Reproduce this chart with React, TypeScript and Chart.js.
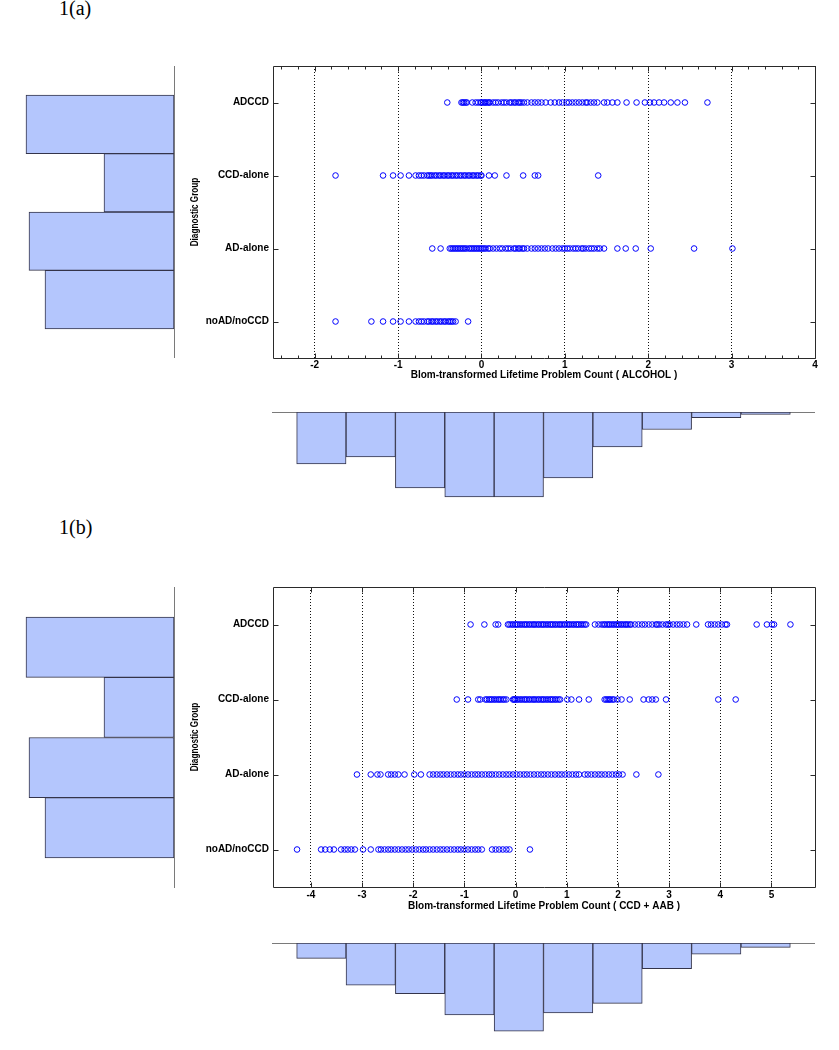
import React, { useEffect, useRef } from 'react';
import { Chart, registerables } from 'chart.js';

Chart.register(...registerables);

const FONT = "'Liberation Sans', Arial, Helvetica, sans-serif";

// ---------- data ----------
const groupLabels = ['noAD/noCCD', 'AD-alone', 'CCD-alone', 'ADCCD'];
const groupCounts = [129, 145, 70, 148];
const yAxisTitle = 'Diagnostic Group';

const alcoholTicks = [-2, -1, 0, 1, 2, 3, 4];
const cabTicks = [-4, -3, -2, -1, 0, 1, 2, 3, 4, 5];
const histBinEdges = [0, 1, 2, 3, 4, 5, 6, 7, 8, 9, 10];

// 1(a) ALCOHOL
const alcNoADnoCCD = [-1.75, -1.32, -1.18, -1.06, -0.97, -0.87, -0.79, -0.75, -0.72, -0.69, -0.65, -0.63, -0.6, -0.58,
  -0.55, -0.53, -0.5, -0.48, -0.45, -0.43, -0.4, -0.38, -0.36, -0.34, -0.31, -0.16];
const alcADalone = [-0.59, -0.49, -0.38, -0.36, -0.34, -0.32, -0.3, -0.28, -0.26, -0.24, -0.22, -0.2, -0.18, -0.15,
  -0.13, -0.11, -0.09, -0.07, -0.05, -0.03, -0.01, 0.01, 0.03, 0.05, 0.08, 0.1, 0.14, 0.18, 0.22, 0.25, 0.29, 0.32,
  0.35, 0.39, 0.41, 0.44, 0.46, 0.49, 0.51, 0.55, 0.6, 0.64, 0.68, 0.72, 0.76, 0.8, 0.85, 0.89, 0.93, 0.97, 1.0, 1.03,
  1.06, 1.1, 1.13, 1.16, 1.2, 1.22, 1.25, 1.29, 1.32, 1.35, 1.39, 1.42, 1.47, 1.63, 1.73, 1.85, 2.03, 2.55, 3.01];
const alcCCDalone = [-1.75, -1.18, -1.06, -0.97, -0.87, -0.79, -0.75, -0.72, -0.69, -0.65, -0.63, -0.61, -0.59, -0.56,
  -0.54, -0.51, -0.49, -0.46, -0.44, -0.41, -0.39, -0.36, -0.34, -0.31, -0.29, -0.26, -0.24, -0.21, -0.19, -0.16,
  -0.14, -0.11, -0.09, -0.06, -0.04, -0.01, 0.0, 0.09, 0.16, 0.3, 0.5, 0.64, 0.68, 1.4];
const alcADCCD = [-0.41, -0.24, -0.225, -0.21, -0.19, -0.175, -0.11, -0.07, -0.04, -0.01, 0.0, 0.02, 0.04, 0.05, 0.07,
  0.09, 0.1, 0.14, 0.17, 0.2, 0.24, 0.27, 0.3, 0.34, 0.36, 0.39, 0.41, 0.44, 0.46, 0.48, 0.51, 0.55, 0.6, 0.64, 0.68,
  0.72, 0.77, 0.83, 0.88, 0.93, 0.97, 1.02, 1.05, 1.09, 1.13, 1.17, 1.21, 1.25, 1.27, 1.31, 1.35, 1.39, 1.47, 1.51,
  1.57, 1.63, 1.74, 1.86, 1.96, 2.02, 2.07, 2.13, 2.19, 2.27, 2.35, 2.44, 2.71];

// 1(b) CCD + AAB
const cabNoADnoCCD = [-4.27, -3.8, -3.72, -3.63, -3.55, -3.41, -3.34, -3.28, -3.21, -3.14, -2.98, -2.83, -2.68, -2.63,
  -2.56, -2.49, -2.43, -2.36, -2.29, -2.22, -2.15, -2.09, -2.02, -1.95, -1.88, -1.81, -1.75, -1.68, -1.61, -1.54,
  -1.47, -1.41, -1.34, -1.27, -1.2, -1.13, -1.07, -1.0, -0.93, -0.86, -0.79, -0.73, -0.66, -0.46, -0.39, -0.32, -0.25,
  -0.18, -0.12, 0.28];
const cabADalone = [-3.1, -2.83, -2.7, -2.64, -2.49, -2.43, -2.36, -2.29, -2.17, -1.98, -1.85, -1.68, -1.61, -1.54,
  -1.47, -1.41, -1.34, -1.27, -1.2, -1.13, -1.07, -1.0, -0.93, -0.86, -0.79, -0.73, -0.66, -0.59, -0.52, -0.46, -0.39,
  -0.32, -0.25, -0.18, -0.12, -0.05, 0.02, 0.09, 0.16, 0.22, 0.29, 0.36, 0.43, 0.5, 0.56, 0.63, 0.7, 0.77, 0.84, 0.9,
  0.97, 1.04, 1.11, 1.18, 1.24, 1.35, 1.41, 1.48, 1.55, 1.62, 1.68, 1.75, 1.82, 1.89, 1.96, 2.02, 2.09, 2.36, 2.79];
const cabCCDalone = [-1.15, -0.93, -0.73, -0.69, -0.59, -0.56, -0.52, -0.49, -0.46, -0.42, -0.39, -0.35, -0.32, -0.29,
  -0.25, -0.22, -0.18, -0.05, -0.03, -0.01, 0.02, 0.05, 0.09, 0.12, 0.16, 0.19, 0.22, 0.26, 0.29, 0.33, 0.36, 0.39,
  0.43, 0.46, 0.5, 0.53, 0.56, 0.6, 0.63, 0.67, 0.7, 0.73, 0.77, 0.8, 0.84, 0.87, 1.01, 1.09, 1.24, 1.43, 1.74, 1.77,
  1.8, 1.83, 1.85, 1.89, 1.92, 1.99, 2.07, 2.23, 2.5, 2.6, 2.67, 2.74, 2.94, 3.96, 4.3];
const cabADCCD = [-0.88, -0.61, -0.39, -0.34, -0.15, -0.12, -0.08, -0.05, -0.01, 0.02, 0.05, 0.09, 0.12, 0.16, 0.19,
  0.22, 0.26, 0.29, 0.33, 0.36, 0.39, 0.43, 0.46, 0.5, 0.53, 0.56, 0.6, 0.63, 0.67, 0.7, 0.73, 0.77, 0.8, 0.84, 0.87,
  0.9, 0.94, 0.97, 1.01, 1.04, 1.07, 1.11, 1.14, 1.18, 1.21, 1.24, 1.28, 1.31, 1.35, 1.38, 1.55, 1.62, 1.68, 1.72,
  1.75, 1.79, 1.82, 1.85, 1.89, 1.92, 1.96, 1.99, 2.02, 2.06, 2.09, 2.13, 2.16, 2.19, 2.23, 2.26, 2.33, 2.4, 2.47,
  2.53, 2.6, 2.67, 2.74, 2.77, 2.81, 2.87, 2.94, 2.98, 3.01, 3.08, 3.15, 3.21, 3.28, 3.35, 3.53, 3.76, 3.82, 3.89,
  3.96, 4.03, 4.1, 4.13, 4.71, 4.91, 5.01, 5.05, 5.37];

// marginal histograms (bin frequencies)
const alcHist = [52, 45, 76, 85, 85, 66, 35, 17.5, 5.7, 2.5];
const cabHist = [15.4, 42.2, 50.7, 71.8, 88.2, 70, 60.4, 25.7, 11.1, 4.3];

// ---------- styles ----------
const BAR_FILL = '#b4c6fd';
const BAR_EDGE = '#34344a';
const AXIS_GRAY = '#7a7a7a';
const MARK = '#0000ff';

function framePlugin(majors: number[], minorStep: number | null, xMin: number, xMax: number) {
  return {
    id: 'matlabFrame',
    afterDraw(chart: any) {
      const { ctx, chartArea } = chart;
      const xs = chart.scales.x;
      const ys = chart.scales.y;
      const L = Math.round(chartArea.left) + 0.5;
      const R = Math.round(chartArea.right) + 0.5;
      const T = Math.round(chartArea.top) + 0.5;
      const B = Math.round(chartArea.bottom) + 0.5;
      ctx.save();
      ctx.strokeStyle = '#2a2a2a';
      ctx.lineWidth = 1;
      ctx.beginPath();
      ctx.rect(L, T, R - L, B - T);
      for (const v of [1, 2, 3, 4]) {
        const py = Math.round(ys.getPixelForValue(v)) + 0.5;
        ctx.moveTo(L, py); ctx.lineTo(L + 5, py);
        ctx.moveTo(R, py); ctx.lineTo(R - 5, py);
      }
      for (const v of majors) {
        const px = Math.round(xs.getPixelForValue(v)) + 0.5;
        ctx.moveTo(px, T); ctx.lineTo(px, T + 5);
        ctx.moveTo(px, B); ctx.lineTo(px, B - 5);
      }
      if (minorStep) {
        const n0 = Math.ceil(xMin / minorStep);
        const n1 = Math.floor(xMax / minorStep);
        for (let n = n0; n <= n1; n++) {
          const v = n * minorStep;
          if (Math.abs(v - Math.round(v)) < 1e-6) continue;
          const px = Math.round(xs.getPixelForValue(v)) + 0.5;
          ctx.moveTo(px, T); ctx.lineTo(px, T + 3);
          ctx.moveTo(px, B); ctx.lineTo(px, B - 3);
        }
      }
      ctx.stroke();

      // condensed rotated y-axis title
      const cy = (chartArea.top + chartArea.bottom) / 2;
      ctx.translate(chart.scales.y.left + 15, cy);
      ctx.rotate(-Math.PI / 2);
      ctx.scale(0.78, 1);
      ctx.font = `bold 10.5px ${FONT}`;
      ctx.fillStyle = '#000';
      ctx.textAlign = 'center';
      ctx.textBaseline = 'middle';
      ctx.fillText(yAxisTitle, 0, 0);
      ctx.restore();
    },
  };
}

function scatterConfig(sets: number[][], xMin: number, xMax: number, majors: number[], minorStep: number | null,
  xTitle: string, labelPad: number, axisH: number): any {
  return {
    type: 'scatter',
    data: {
      datasets: sets.map((xs, i) => ({
        label: groupLabels[i],
        data: xs.map((x) => ({ x, y: i + 1 })),
        pointStyle: 'circle',
        pointRadius: 2.8,
        pointHoverRadius: 2.8,
        borderColor: MARK,
        backgroundColor: 'rgba(0,0,0,0)',
        borderWidth: 1,
      })),
    },
    options: {
      responsive: false,
      animation: false,
      events: [],
      layout: { padding: { top: 10, right: 10, left: 0, bottom: 0 } },
      plugins: { legend: { display: false }, tooltip: { enabled: false } },
      scales: {
        x: {
          type: 'linear',
          position: 'bottom',
          min: xMin,
          max: xMax,
          afterBuildTicks: (s: any) => { s.ticks = majors.map((v) => ({ value: v })); },
          afterFit: (s: any) => { s.height = axisH; },
          grid: { display: true, drawTicks: false, color: '#111', lineWidth: 1 },
          border: { display: false, dash: [1, 2] },
          ticks: {
            padding: labelPad,
            autoSkip: false,
            maxRotation: 0,
            color: '#000',
            font: { family: FONT, size: 10, weight: 'bold' },
            callback: (v: any) => String(v),
          },
          title: {
            display: true,
            text: xTitle,
            color: '#000',
            font: { family: FONT, size: 10, weight: 'bold' },
            padding: { top: 0, bottom: 3 },
          },
        },
        y: {
          type: 'linear',
          min: 0.5,
          max: 4.5,
          afterBuildTicks: (s: any) => { s.ticks = [1, 2, 3, 4].map((v) => ({ value: v })); },
          afterFit: (s: any) => { s.width = 93; },
          grid: { display: false, drawTicks: false },
          border: { display: false },
          ticks: {
            padding: 4,
            color: '#000',
            font: { family: FONT, size: 10, weight: 'bold' },
            callback: (v: any) => groupLabels[Math.round(v) - 1],
          },
          title: { display: false },
        },
      },
    },
    plugins: [framePlugin(majors, minorStep, xMin, xMax)],
  };
}

function leftHistConfig(): any {
  return {
    type: 'bar',
    data: {
      datasets: [{
        data: groupCounts.map((c, i) => ({ x: c, y: i + 1 })),
        backgroundColor: BAR_FILL,
        borderColor: BAR_EDGE,
        borderWidth: 1,
        borderSkipped: false,
        barPercentage: 1,
        categoryPercentage: 1,
      }],
    },
    options: {
      indexAxis: 'y',
      responsive: false,
      animation: false,
      events: [],
      layout: { padding: 0 },
      plugins: { legend: { display: false }, tooltip: { enabled: false } },
      scales: {
        x: { type: 'linear', min: 0, max: 174, reverse: true, display: false },
        y: {
          type: 'linear',
          position: 'right',
          offset: false,
          min: 0,
          max: 5,
          afterBuildTicks: (s: any) => { s.ticks = [0, 1, 2, 3, 4, 5].map((v) => ({ value: v })); },
          afterFit: (s: any) => { s.width = 1; },
          grid: { display: false, drawTicks: false, offset: false },
          ticks: { display: false },
          border: { display: true, color: AXIS_GRAY, width: 1 },
        },
      },
    },
  };
}

function bottomHistConfig(values: number[]): any {
  return {
    type: 'bar',
    data: {
      datasets: [{
        data: values.map((v, i) => ({ x: (histBinEdges[i] + histBinEdges[i + 1]) / 2, y: v })),
        backgroundColor: BAR_FILL,
        borderColor: BAR_EDGE,
        borderWidth: 1,
        borderSkipped: false,
        barPercentage: 1,
        categoryPercentage: 1,
      }],
    },
    options: {
      responsive: false,
      animation: false,
      events: [],
      layout: { padding: 0 },
      plugins: { legend: { display: false }, tooltip: { enabled: false } },
      scales: {
        x: {
          type: 'linear',
          position: 'top',
          offset: false,
          min: -0.5,
          max: 10.5,
          afterBuildTicks: (s: any) => { s.ticks = histBinEdges.map((v) => ({ value: v })); },
          afterFit: (s: any) => { s.height = 1; },
          grid: { display: false, drawTicks: false, offset: false },
          ticks: { display: false },
          border: { display: true, color: AXIS_GRAY, width: 1 },
        },
        y: { type: 'linear', min: 0, max: 100, reverse: true, display: false },
      },
    },
  };
}

function ChartBox({ left, top, width, height, make }: any) {
  const ref = useRef<HTMLCanvasElement | null>(null);
  useEffect(() => {
    const chart = new Chart(ref.current as HTMLCanvasElement, make());
    return () => chart.destroy();
  }, []);
  return (
    <canvas
      ref={ref}
      width={width}
      height={height}
      style={{ position: 'absolute', left, top, width, height }}
    />
  );
}

const figLabel: React.CSSProperties = {
  position: 'absolute',
  left: 59,
  fontFamily: "'Liberation Serif', 'Times New Roman', serif",
  fontSize: 20,
  lineHeight: '20px',
  color: '#000',
  whiteSpace: 'nowrap',
};

export default function App() {
  useEffect(() => {
    document.body.style.margin = '0';
    document.body.style.background = '#fff';
  }, []);
  return (
    <div style={{ position: 'absolute', left: 0, top: 0, width: 839, height: 1050, background: '#fff', overflow: 'hidden' }}>
      <div style={{ ...figLabel, top: -2 }}>1(a)</div>
      <ChartBox left={0} top={66} width={175} height={292} make={leftHistConfig} />
      <ChartBox
        left={180}
        top={56}
        width={645}
        height={328}
        make={() => scatterConfig([alcNoADnoCCD, alcADalone, alcCCDalone, alcADCCD], -2.5, 4, alcoholTicks, 0.2,
          'Blom-transformed Lifetime Problem Count ( ALCOHOL )', 1, 26)}
      />
      <ChartBox left={272} top={411} width={543} height={101} make={() => bottomHistConfig(alcHist)} />

      <div style={{ ...figLabel, top: 517 }}>1(b)</div>
      <ChartBox left={0} top={587} width={175} height={301} make={leftHistConfig} />
      <ChartBox
        left={180}
        top={577}
        width={645}
        height={338}
        make={() => scatterConfig([cabNoADnoCCD, cabADalone, cabCCDalone, cabADCCD], -4.74, 5.85, cabTicks, null,
          'Blom-transformed Lifetime Problem Count ( CCD + AAB )', 2, 28)}
      />
      <ChartBox left={272} top={942} width={543} height={101} make={() => bottomHistConfig(cabHist)} />
    </div>
  );
}
